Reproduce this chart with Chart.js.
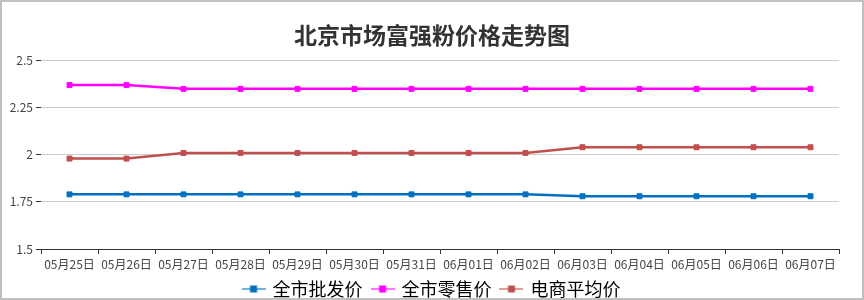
<!DOCTYPE html>
<html>
<head>
<meta charset="utf-8">
<script src="https://cdn.jsdelivr.net/npm/chart.js@4/dist/chart.umd.min.js"></script>
<style>
    html, body { margin: 0; padding: 0; background: #fff; }
    .box {
        position: relative;
        width: 864px;
        height: 300px;
        box-sizing: border-box;
        border: 2px solid #c0c0c0;
        background: #fff;
    }
</style>
</head>
<body>
<div class="box"><canvas id="priceChart"></canvas></div>
<script>
const dates = [
    "05月25日","05月26日","05月27日","05月28日","05月29日","05月30日","05月31日",
    "06月01日","06月02日","06月03日","06月04日","06月05日","06月06日","06月07日"
];
const wholesale = [1.79,1.79,1.79,1.79,1.79,1.79,1.79,1.79,1.79,1.78,1.78,1.78,1.78,1.78];
const retail    = [2.37,2.37,2.35,2.35,2.35,2.35,2.35,2.35,2.35,2.35,2.35,2.35,2.35,2.35];
const online    = [1.98,1.98,2.01,2.01,2.01,2.01,2.01,2.01,2.01,2.04,2.04,2.04,2.04,2.04];
const yTicks = [1.5, 1.75, 2, 2.25, 2.5];

const seriesNames = ["全市批发价", "全市零售价", "电商平均价"];
const seriesColors = ["#0070c0", "#ff00ff", "#c0504d"];

Chart.defaults.font.family = "'Noto Sans CJK SC', 'Noto Sans', sans-serif";
Chart.defaults.color = "#444";

// legend marker: short line with a square on it
function legendMark(color) {
    const c = document.createElement("canvas");
    c.width = 24;
    c.height = 8;
    const g = c.getContext("2d");
    g.globalAlpha = 0.55;
    g.strokeStyle = color;
    g.lineWidth = 2;
    g.beginPath();
    g.moveTo(0, 4);
    g.lineTo(24, 4);
    g.stroke();
    g.globalAlpha = 1;
    g.fillStyle = color;
    g.fillRect(8.5, 0.5, 7, 7);
    return c;
}

const makeSet = (i, data) => ({
    label: seriesNames[i],
    data,
    borderColor: seriesColors[i],
    backgroundColor: seriesColors[i],
    pointBackgroundColor: seriesColors[i],
    pointBorderColor: seriesColors[i],
    pointStyle: "rect",
    pointRadius: 3.5,
    pointBorderWidth: 1,
    borderWidth: 2.5,
    tension: 0,
    fill: false,
});

new Chart(document.getElementById("priceChart"), {
    type: "line",
    data: {
        labels: dates,
        datasets: [makeSet(0, wholesale), makeSet(1, retail), makeSet(2, online)],
    },
    options: {
        responsive: true,
        maintainAspectRatio: false,
        animation: false,
        layout: { padding: 0 },
        plugins: {
            title: {
                display: true,
                text: "北京市场富强粉价格走势图",
                color: "#333",
                font: { size: 23, weight: "bold" },
                padding: { top: 19, bottom: 12 },
            },
            legend: {
                position: "bottom",
                maxHeight: 28,
                labels: {
                    usePointStyle: true,
                    pointStyleWidth: 20,
                    boxWidth: 20,
                    padding: 10,
                    color: "#333",
                    font: { size: 18 },
                    generateLabels: (chart) =>
                        chart.data.datasets.map((ds, i) => ({
                            text: ds.label,
                            pointStyle: legendMark(seriesColors[i]),
                            fillStyle: seriesColors[i],
                            strokeStyle: seriesColors[i],
                            lineWidth: 0,
                            hidden: !chart.isDatasetVisible(i),
                            datasetIndex: i,
                        })),
                },
            },
            tooltip: { enabled: false },
        },
        scales: {
            x: {
                offset: true,
                afterFit: (scale) => {
                    scale.height = 21;
                },
                grid: {
                    offset: true,
                    drawOnChartArea: false,
                    drawTicks: true,
                    tickLength: 5,
                    tickColor: "#333",
                },
                border: { display: true, color: "#333", width: 1 },
                ticks: {
                    autoSkip: false,
                    maxRotation: 0,
                    padding: 3,
                    color: "#444",
                    font: { size: 12 },
                },
            },
            y: {
                min: 1.5,
                max: 2.5,
                afterBuildTicks: (scale) => {
                    scale.ticks = yTicks.map((v) => ({ value: v }));
                },
                afterFit: (scale) => {
                    scale.width = 39;
                },
                grid: {
                    color: "#cccccc",
                    tickLength: 5,
                    tickColor: "#333",
                },
                border: { display: false },
                ticks: {
                    padding: 3,
                    color: "#444",
                    font: { size: 12 },
                    callback: (value) => String(value),
                },
            },
            // empty right-hand gutter so the legend stays centred on the full width
            gutter: {
                type: "linear",
                position: "right",
                display: true,
                grid: { display: false },
                border: { display: false },
                ticks: { display: false },
                afterFit: (scale) => {
                    scale.width = 23;
                },
            },
        },
    },
});
</script>
</body>
</html>
